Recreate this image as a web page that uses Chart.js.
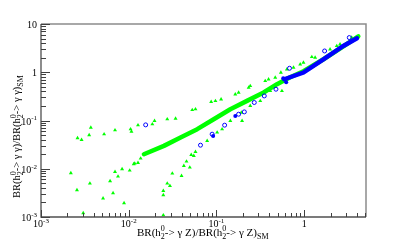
<!DOCTYPE html>
<html>
<head>
<meta charset="utf-8">
<script src="https://cdn.jsdelivr.net/npm/chart.js@4.4.0/dist/chart.umd.min.js"></script>
<style>
    html, body { margin: 0; padding: 0; background: #fff; overflow: hidden; }
</style>
</head>
<body>
<canvas id="brChart" width="407" height="241"></canvas>
<script>
// tick labels (decades) for both log axes
const xDecades = [0.001, 0.01, 0.1, 1];
const yDecades = [0.001, 0.01, 0.1, 1, 10];
const xLabels = [['10', '-3'], ['10', '-2'], ['10', '-1'], ['1', '']];
const yLabels = [['10', '-3'], ['10', '-2'], ['10', '-1'], ['1', ''], ['10', '']];

// dense green band (centre line)
const greenBand = [
    [0.0149, 0.0200], [0.0252, 0.0298], [0.039, 0.0445], [0.0604, 0.0661],
    [0.0931, 0.1064], [0.144, 0.171], [0.223, 0.255], [0.345, 0.380],
    [0.490, 0.565], [0.693, 0.787], [0.982, 1.05], [1.66, 1.86],
    [2.80, 3.45], [4.14, 5.56]
];

// dense blue band
const blueBand = [
    [0.593, 0.716], [0.982, 0.986], [1.656, 1.858], [2.797, 3.505], [4.0, 5.06]
];

// scattered green triangles
const greenPoints = [
    // upper branch
    [0.0105, 0.0661], [0.0186, 0.0838], [0.0197, 0.0982], [0.0275, 0.1064], [0.0342, 0.110],
    [0.0530, 0.1656], [0.0577, 0.1714], [0.0871, 0.2427], [0.0974, 0.2545], [0.113, 0.276],
    [0.164, 0.350], [0.179, 0.380], [0.233, 0.482], [0.243, 0.520], [0.360, 0.661],
    [0.393, 0.716], [0.468, 0.777], [0.543, 0.986], [0.636, 1.154], [0.756, 1.251],
    [0.901, 1.465], [0.982, 1.588], [1.223, 2.074], [1.334, 2.015], [1.974, 2.994],
    [2.353, 3.505], [2.565, 3.80], [3.483, 5.23],
    // far left
    [0.00219, 0.0081], [0.00257, 0.00361], [0.00261, 0.0431], [0.0029, 0.0397], [0.00303, 0.00121],
    [0.00354, 0.0497], [0.00361, 0.00496], [0.0037, 0.0716], [0.0051, 0.00243], [0.00524, 0.052],
    [0.00613, 0.00553], [0.00663, 0.00313], [0.00698, 0.00863], [0.00698, 0.063], [0.00755, 0.00693],
    [0.0084, 0.00981], [0.00885, 0.00194], [0.01026, 0.00922], [0.01074, 0.0592], [0.0117, 0.01288],
    [0.01276, 0.01324], [0.01276, 0.080], [0.01368, 0.01633], [0.0114, 0.01245],
    // lower branch
    [0.0248, 0.00109], [0.0248, 0.00284], [0.0248, 0.00349], [0.0275, 0.00496], [0.0295, 0.00443],
    [0.0314, 0.0080], [0.040, 0.00713], [0.0425, 0.01148], [0.0456, 0.01416], [0.0497, 0.01064],
    [0.0516, 0.0194], [0.0552, 0.0185], [0.0577, 0.0224], [0.0784, 0.0378], [0.1019, 0.0565],
    [0.116, 0.0661], [0.144, 0.0982], [0.192, 0.1464], [0.196, 0.0982], [0.243, 0.2006],
    [0.316, 0.2545], [0.411, 0.410], [0.558, 0.410]
];

// open blue circles
const blueOpen = [
    [0.0156, 0.0811], [0.0658, 0.0308], [0.0893, 0.052], [0.124, 0.080], [0.179, 0.135],
    [0.208, 0.1507], [0.270, 0.236], [0.351, 0.323], [0.477, 0.445], [0.681, 1.21],
    [1.71, 2.76], [3.27, 5.23]
];

// filled blue dots
const blueFilled = [
    [0.0917, 0.048], [0.164, 0.1245], [0.577, 0.751], [0.624, 0.621]
];

const toXY = (arr) => arr.map(([x, y]) => ({ x, y }));

const GREEN = '#00ff00';
const BLUE = '#0000ff';
const SERIF = '"Liberation Serif", "Times New Roman", serif';

function drawRich(ctx, parts, x, y, size) {
    let cx = x;
    const small = Math.round(size * 0.72);
    for (const p of parts) {
        if (p.t !== undefined) {
            ctx.font = `${size}px ${SERIF}`;
            ctx.fillText(p.t, cx, y);
            cx += ctx.measureText(p.t).width;
        } else {
            ctx.font = `${small}px ${SERIF}`;
            let w = 0;
            if (p.sup) {
                ctx.fillText(p.sup, cx, y - size * 0.42);
                w = Math.max(w, ctx.measureText(p.sup).width);
            }
            if (p.sub) {
                ctx.fillText(p.sub, cx, y + size * 0.28);
                w = Math.max(w, ctx.measureText(p.sub).width);
            }
            cx += w;
        }
    }
    return cx - x;
}

function richWidth(ctx, parts, size) {
    ctx.save();
    ctx.globalAlpha = 0;
    const w = drawRich(ctx, parts, 0, 0, size);
    ctx.restore();
    return w;
}

function minorValues(lo, hi) {
    const out = [];
    for (let d = 1e-3; d < hi; d *= 10) {
        for (let k = 2; k <= 9; k++) {
            const v = k * d;
            if (v > lo && v <= hi * 1.0001) out.push(v);
        }
    }
    return out;
}

// ROOT style frame, ticks and labels
const rootFrame = {
    id: 'rootFrame',
    afterDraw(chart) {
        const { ctx, chartArea: a, scales: { x, y } } = chart;
        ctx.save();

        // top and right frame
        ctx.strokeStyle = '#8c8c8c';
        ctx.lineWidth = 1.5;
        ctx.beginPath();
        ctx.moveTo(a.left, a.top);
        ctx.lineTo(a.right, a.top);
        ctx.lineTo(a.right, a.bottom);
        ctx.stroke();

        // axes
        ctx.strokeStyle = '#505050';
        ctx.lineWidth = 1.3;
        ctx.beginPath();
        ctx.moveTo(a.left, a.top);
        ctx.lineTo(a.left, a.bottom);
        ctx.lineTo(a.right, a.bottom);
        ctx.stroke();

        ctx.lineWidth = 1;
        ctx.strokeStyle = '#404040';
        ctx.beginPath();
        for (const v of yDecades) {
            const py = Math.round(y.getPixelForValue(v)) + 0.5;
            ctx.moveTo(a.left, py); ctx.lineTo(a.left + 9, py);
        }
        for (const v of minorValues(y.min, y.max)) {
            const py = Math.round(y.getPixelForValue(v)) + 0.5;
            ctx.moveTo(a.left, py); ctx.lineTo(a.left + 5, py);
        }
        for (const v of xDecades) {
            const px = Math.round(x.getPixelForValue(v)) + 0.5;
            ctx.moveTo(px, a.bottom); ctx.lineTo(px, a.bottom - 7);
        }
        for (const v of minorValues(x.min, x.max)) {
            const px = Math.round(x.getPixelForValue(v)) + 0.5;
            ctx.moveTo(px, a.bottom); ctx.lineTo(px, a.bottom - 4);
        }
        ctx.stroke();

        // tick labels
        ctx.fillStyle = '#000';
        ctx.textBaseline = 'alphabetic';
        ctx.textAlign = 'left';
        yDecades.forEach((v, i) => {
            const [b, e] = yLabels[i];
            const parts = e ? [{ t: b }, { sup: e }] : [{ t: b }];
            const w = richWidth(ctx, parts, 10);
            const py = y.getPixelForValue(v);
            drawRich(ctx, parts, a.left - 4 - w, py + 4, 10);
        });
        xDecades.forEach((v, i) => {
            const [b, e] = xLabels[i];
            const parts = e ? [{ t: b }, { sup: e }] : [{ t: b }];
            const w = richWidth(ctx, parts, 10);
            const px = x.getPixelForValue(v);
            drawRich(ctx, parts, px - w / 2, a.bottom + 10, 10);
        });

        // axis titles
        const xTitle = [
            { t: 'BR(h' }, { sup: '0', sub: '2' }, { t: '-> \u03b3 Z)/BR(h' }, { sup: '0', sub: '2' },
            { t: '-> \u03b3 Z)' }, { sub: 'SM' }
        ];
        const yTitle = [
            { t: 'BR(h' }, { sup: '0', sub: '2' }, { t: '-> \u03b3 \u03b3)/BR(h' }, { sup: '0', sub: '2' },
            { t: '-> \u03b3 \u03b3)' }, { sub: 'SM' }
        ];
        drawRich(ctx, xTitle, 137, 236, 11);

        ctx.translate(20, 198);
        ctx.rotate(-Math.PI / 2);
        drawRich(ctx, yTitle, 0, 0, 10.5);

        ctx.restore();
    }
};

new Chart(document.getElementById('brChart'), {
    type: 'scatter',
    data: {
        datasets: [
            {
                label: 'open',
                data: toXY(blueOpen),
                pointStyle: 'circle',
                pointRadius: 2,
                borderColor: BLUE,
                borderWidth: 1,
                backgroundColor: 'rgba(255,255,255,0)',
                order: 1
            },
            {
                label: 'filled',
                data: toXY(blueFilled),
                pointStyle: 'circle',
                pointRadius: 2,
                borderWidth: 0,
                backgroundColor: BLUE,
                order: 2
            },
            {
                label: 'blue band',
                data: toXY(blueBand),
                showLine: true,
                borderColor: BLUE,
                borderWidth: 4.5,
                borderCapStyle: 'round',
                pointRadius: 0,
                order: 3
            },
            {
                label: 'green points',
                data: toXY(greenPoints),
                pointStyle: 'triangle',
                pointRadius: 2.3,
                borderWidth: 0,
                backgroundColor: GREEN,
                order: 4
            },
            {
                label: 'green band',
                data: toXY(greenBand),
                showLine: true,
                borderColor: GREEN,
                borderWidth: 4.5,
                borderCapStyle: 'round',
                borderJoinStyle: 'round',
                pointRadius: 0,
                order: 5
            }
        ]
    },
    options: {
        responsive: false,
        animation: false,
        layout: { padding: { left: 41, right: 41, top: 24, bottom: 24 } },
        plugins: {
            legend: { display: false },
            tooltip: { enabled: false }
        },
        scales: {
            x: { type: 'logarithmic', min: 0.001, max: 5.07, bounds: 'data', display: false },
            y: { type: 'logarithmic', min: 0.001, max: 10, bounds: 'data', display: false }
        }
    },
    plugins: [rootFrame]
});
</script>
</body>
</html>
